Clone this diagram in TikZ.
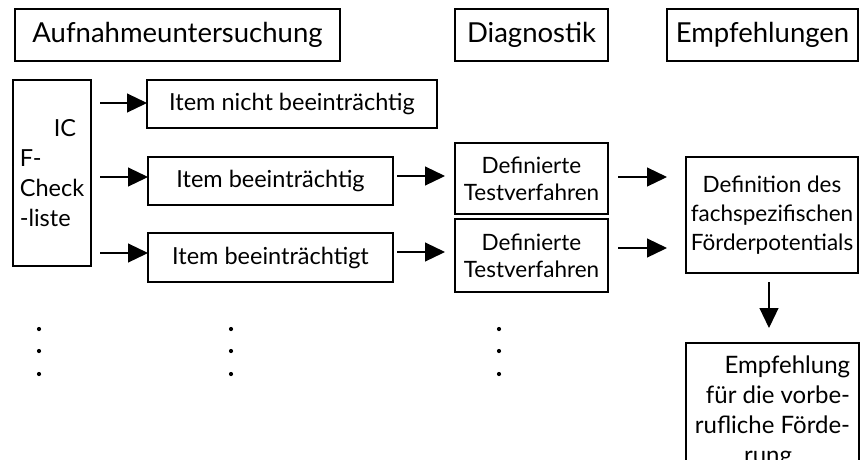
\documentclass[tikz,border=0pt]{standalone}
\usepackage{fontspec}
\setmainfont{Lato}
\usetikzlibrary{arrows.meta}
\newcommand{\titelfont}{\fontsize{27.5}{30}\selectfont}
\newcommand{\kastenfont}{\fontsize{23.5}{30}\selectfont}
\newcommand{\testfont}{\fontsize{22.5}{27}\selectfont}

\begin{document}
\begin{tikzpicture}[x=1pt,y=-1pt]
  % Ablauf: Aufnahme -> Diagnostik -> Empfehlungen

  %
  % Definitionen
  %
  \tikzset{
    kasten/.style={draw, line width=1.1pt, inner sep=0pt, outer sep=0pt, font=\kastenfont},
    pfeil/.style={-{Triangle[length=20pt,width=19pt]}, line width=1.2pt},
    punkt/.style={circle, fill, inner sep=0pt, minimum size=4.2pt},
  }
  \useasboundingbox (0,0) rectangle (862,459);%
  \clip (0,0) rectangle (862,459);%

  \pgfmathsetmacro{\yk}{35};%
  \pgfmathsetmacro{\xa}{177.5};%
  \pgfmathsetmacro{\xd}{531.5};%
  \pgfmathsetmacro{\xe}{762.5};%

  %
  % Zeichnung
  %
  % Kopfzeile
  \node[kasten, font=\titelfont, minimum width=325pt, minimum height=52pt] (aufnahme) at (\xa,\yk) {Aufnahmeuntersuchung};
  \node[kasten, font=\titelfont, minimum width=153pt, minimum height=52pt] (diagnostik) at (\xd,\yk) {Diagnostik};
  \node[kasten, font=\titelfont, minimum width=191pt, minimum height=52pt] (empfehlungen) at (\xe,\yk) {Empfehlungen};

  % Checkliste
  \node[kasten, align=left, minimum width=78pt, minimum height=186pt] (icf) at (52,173)
  {\hspace*{34pt}IC\\F-\\Check\\-liste};

  % Items
  \node[kasten, minimum width=290pt, minimum height=48pt] (item1) at (292,104) {Item nicht beeinträchtig};
  \node[kasten, minimum width=245pt, minimum height=48pt] (item2) at (270.5,181) {Item beeinträchtig};
  \node[kasten, minimum width=245pt, minimum height=49pt] (item3) at (270.5,257.5) {Item beeinträchtigt};

  % Diagnostik
  \node[kasten, align=center, minimum width=153pt, minimum height=71pt, font=\testfont] (test1) at (\xd,178.5) {Definierte\\Testverfahren};
  \node[kasten, align=center, minimum width=153pt, minimum height=73pt, font=\testfont] (test2) at (\xd,255.5) {Definierte\\Testverfahren};

  % Empfehlungen
  \node[kasten, align=center, minimum width=172pt, minimum height=116pt, font=\fontsize{22.5}{29}\selectfont] (definition) at (772,215)
  {Definition des\\fachspezifischen\\Förderpotentials};
  \node[kasten, anchor=north, align=right, minimum width=173pt, inner xsep=5pt, inner ysep=13pt, font=\fontsize{24}{30}\selectfont] (empfehlung) at (772.5,343)
  {Empfehlung\\für die vorbe-\\rufliche Förde-\\rung\hspace*{58pt}};

  % Pfeile
  \foreach \ziel/\dy in {item1/1, item2/4, item3/4.5}
    \draw[pfeil] ([xshift=9pt]icf.east |- \ziel.west) ++(0,-\dy) -- ([yshift=\dy pt]\ziel.west);
  \draw[pfeil] ([xshift=4pt,yshift=5pt]item2.east) -- ([xshift=-10pt,yshift=2.5pt]test1.west);
  \draw[pfeil] ([xshift=4pt,yshift=5.5pt]item3.east) -- ([xshift=-10pt,yshift=3.5pt]test2.west);
  \draw[pfeil] ([xshift=10pt,yshift=1.5pt]test1.east) -- ([xshift=-19pt,yshift=38pt]definition.west);
  \draw[pfeil] ([xshift=10pt,yshift=7.5pt]test2.east) -- ([xshift=-19pt,yshift=-33pt]definition.west);
  \draw[pfeil] ([xshift=-3pt,yshift=-9pt]definition.south) -- ([xshift=-3.5pt,yshift=15pt]empfehlung.north);

  % Fortsetzung
  \foreach \x in {39,231,499}
    \foreach \y in {329,351,374}
      \node[punkt] (p-\x-\y) at (\x,\y) {};

\end{tikzpicture}
\end{document}
